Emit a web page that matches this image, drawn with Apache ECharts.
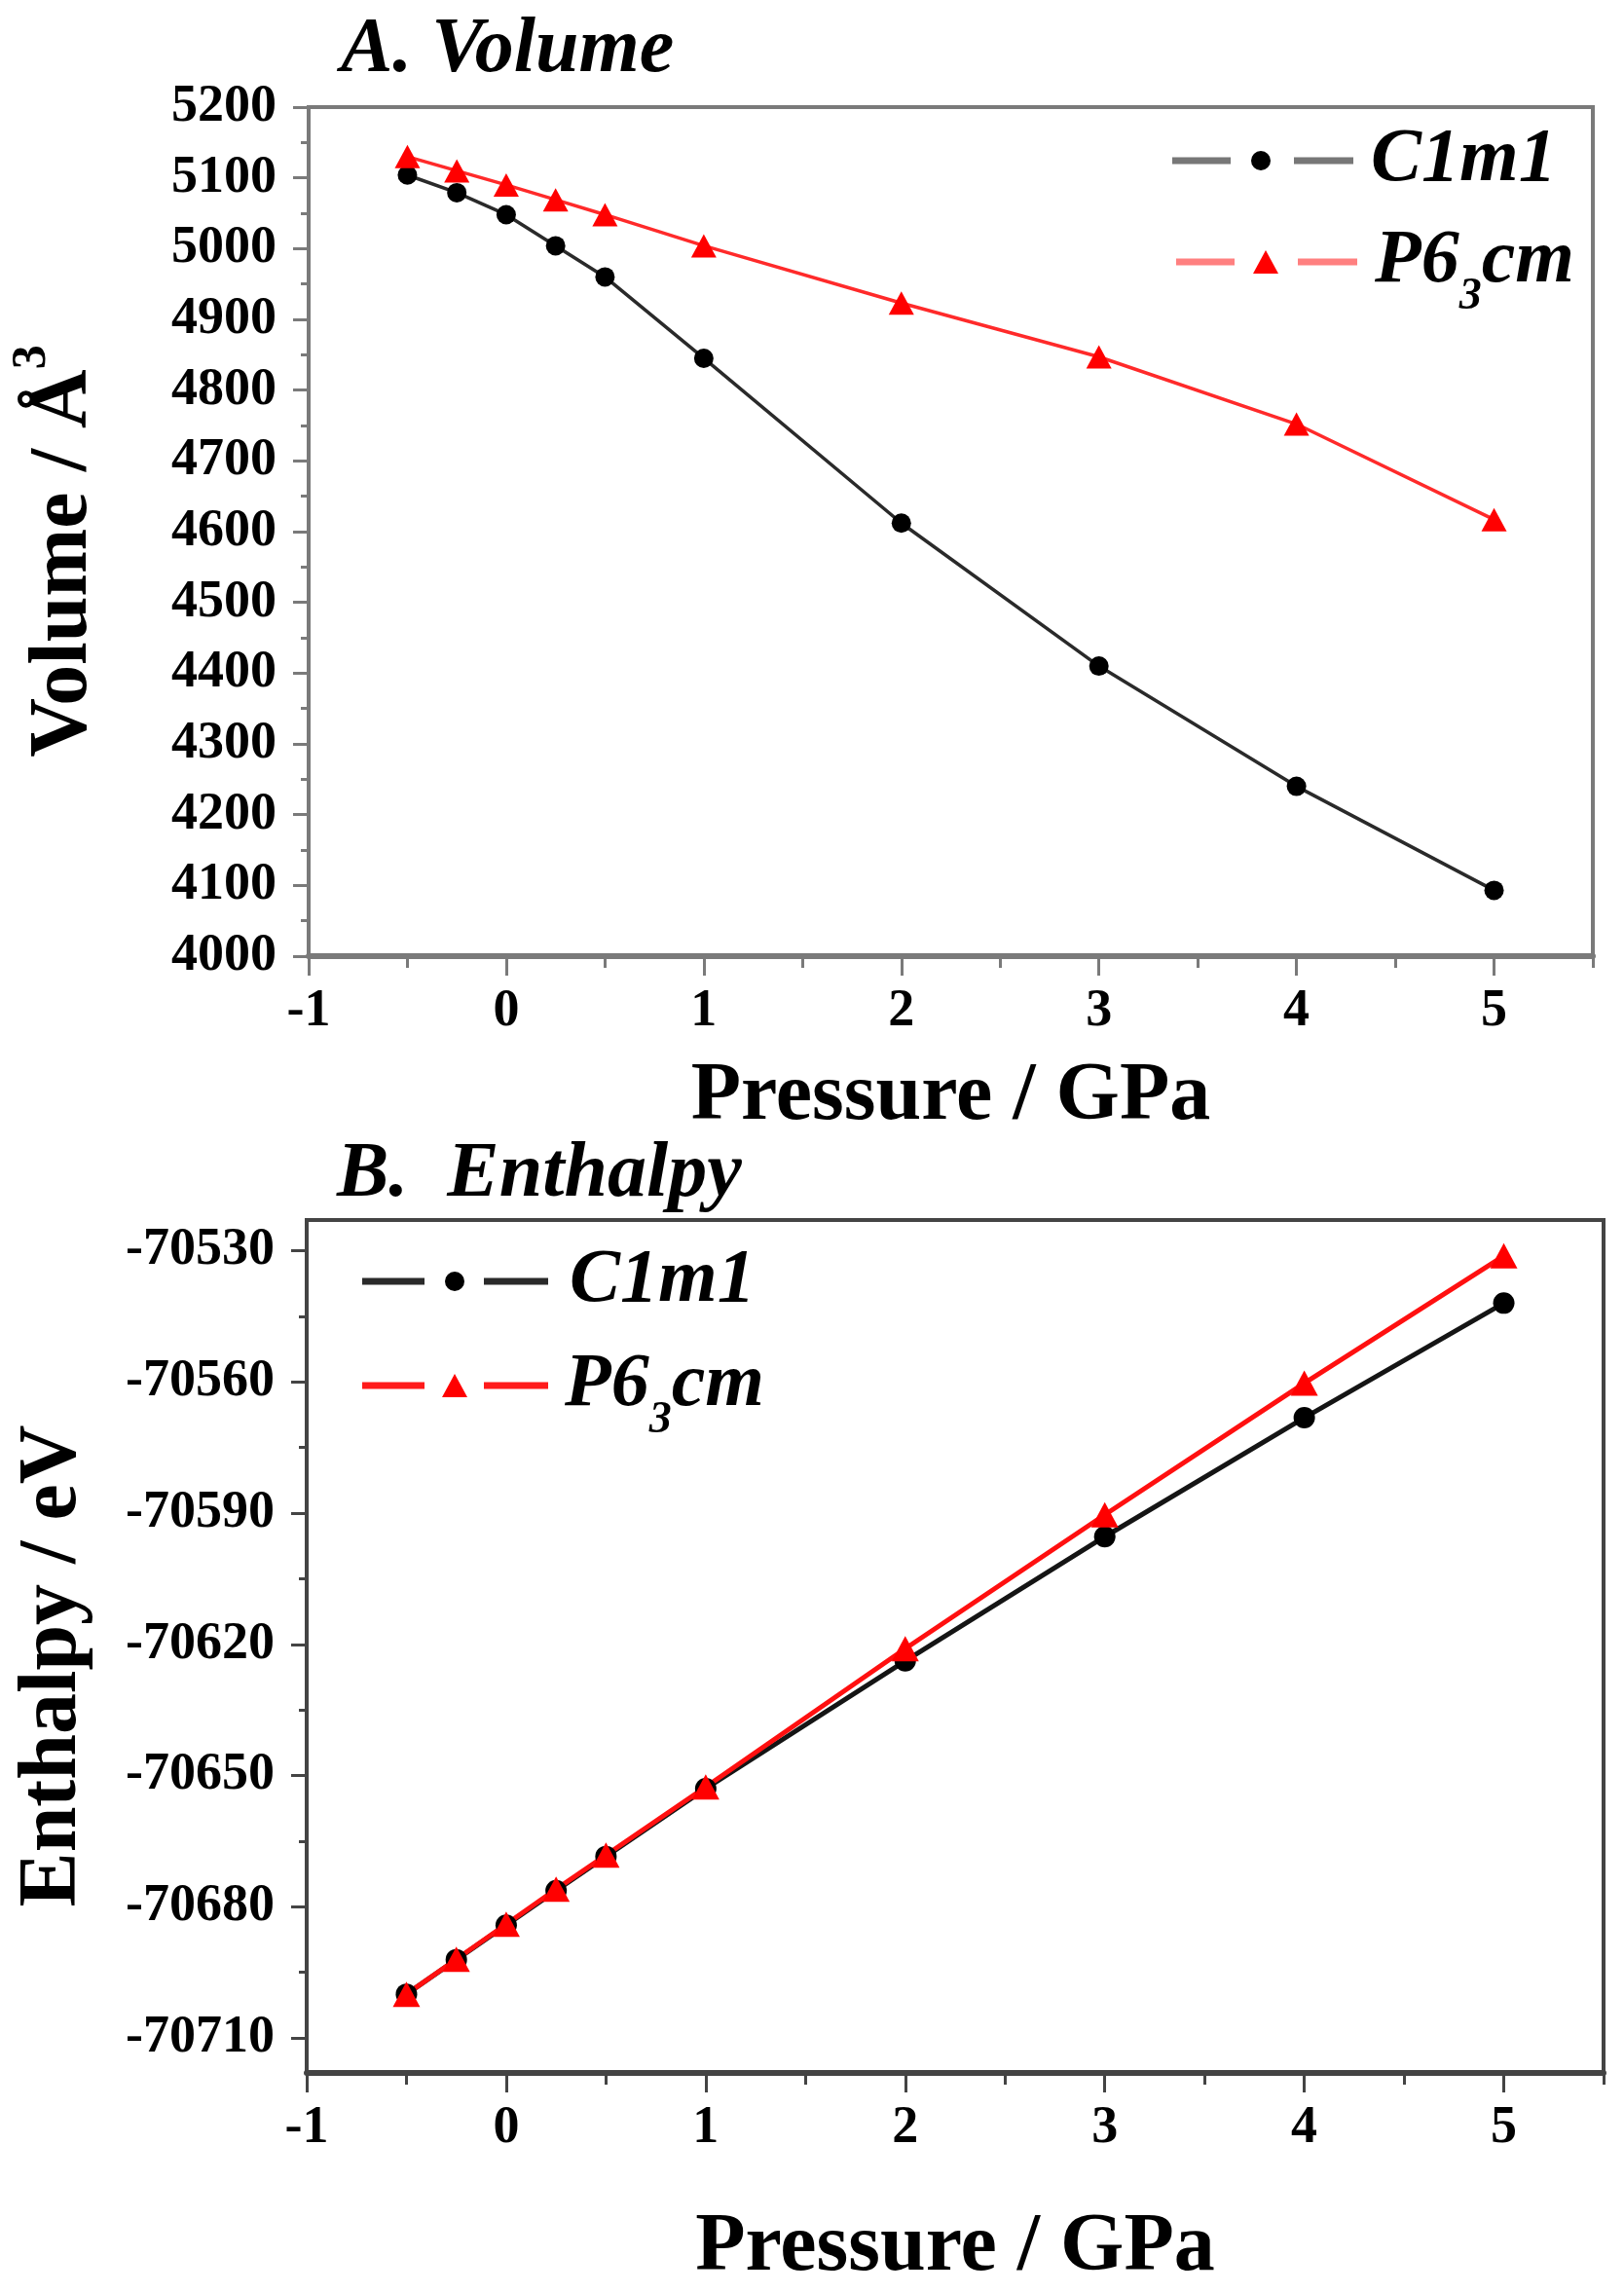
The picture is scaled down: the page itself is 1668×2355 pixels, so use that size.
<!DOCTYPE html>
<html>
<head>
<meta charset="utf-8">
<script src="https://cdn.jsdelivr.net/npm/echarts@6/dist/echarts.min.js"></script>
<style>
  html, body { margin: 0; padding: 0; background: #fff; }
  #chart { width: 1668px; height: 2355px; }
</style>
</head>
<body>
<div id="chart"></div>
<script>
// 数据
const pressure = [-0.5, -0.25, 0, 0.25, 0.5, 1, 2, 3, 4, 5];
const volumeC1m1 = [5104, 5079, 5048, 5004, 4960, 4845, 4612, 4410, 4240, 4093];
const volumeP63cm = [5130, 5110, 5090, 5069, 5048, 5004, 4923, 4847, 4752, 4617];
const enthalpyC1m1 = [-70700, -70692.1, -70684.2, -70676.3, -70668.5, -70653.0, -70623.8, -70595.4, -70568.2, -70542.0];
const enthalpyP63cm = [-70700, -70692, -70684, -70676, -70668.2, -70652.6, -70621, -70590.4, -70560.3, -70531.2];

// 刻度
const xMajorTicks = [-1, 0, 1, 2, 3, 4, 5];
const xMinorTicks = [-0.5, 0.5, 1.5, 2.5, 3.5, 4.5, 5.5];
const volumeTicks = [4000, 4100, 4200, 4300, 4400, 4500, 4600, 4700, 4800, 4900, 5000, 5100, 5200];
const volumeMinorTicks = [4050, 4150, 4250, 4350, 4450, 4550, 4650, 4750, 4850, 4950, 5050, 5150];
const enthalpyTicks = [-70710, -70680, -70650, -70620, -70590, -70560, -70530];
const enthalpyMinorTicks = [-70695, -70665, -70635, -70605, -70575, -70545];

const serif = '"Liberation Serif", "Times New Roman", serif';
const frameTop = '#7a7a7a';
const frameBottom = '#444';

function pairs(xs, ys) {
  return xs.map((x, i) => [x, ys[i]]);
}

const tickLabel = {
  fontSize: 54,
  fontWeight: 'bold',
  fontFamily: serif,
  color: '#000',
  formatter: v => String(v)
};

const axisName = {
  fontSize: 84,
  fontWeight: 'bold',
  fontFamily: serif,
  color: '#000',
  lineHeight: 90
};

// 主坐标轴（带标签）
function mainX(grid, color, gap) {
  return {
    type: 'value', gridIndex: grid, min: -1, max: 5.5, position: 'bottom',
    axisLine: { show: true, onZero: false, lineStyle: { color: color, width: 6 } },
    axisTick: { show: true, customValues: xMajorTicks, length: 20, lineStyle: { color: color, width: 3 } },
    axisLabel: Object.assign({ customValues: xMajorTicks, margin: 30 }, tickLabel),
    splitLine: { show: false },
    name: 'Pressure / GPa', nameLocation: 'middle', nameGap: gap,
    nameTextStyle: axisName
  };
}

// 次刻度轴
function minorX(grid, color) {
  return {
    type: 'value', gridIndex: grid, min: -1, max: 5.5, position: 'bottom', offset: 0,
    axisLine: { show: false, onZero: false },
    axisTick: { show: true, customValues: xMinorTicks, length: 12, lineStyle: { color: color, width: 3 } },
    axisLabel: { show: false },
    splitLine: { show: false }
  };
}

function mainY(grid, color, min, max, ticks, name, gap, shift) {
  return {
    type: 'value', gridIndex: grid, min: min, max: max, position: 'left',
    axisLine: { show: true, onZero: false, lineStyle: { color: color, width: 4 } },
    axisTick: { show: true, customValues: ticks, length: 16, lineStyle: { color: color, width: 3 } },
    axisLabel: Object.assign({ customValues: ticks, margin: 33 }, tickLabel),
    splitLine: { show: false },
    name: name, nameLocation: 'middle', nameGap: gap,
    nameTextStyle: Object.assign({
      padding: [0, shift, 0, 0],
      rich: {
        sup: { fontSize: 50, fontWeight: 'bold', fontFamily: serif, color: '#000', lineHeight: 90, padding: [0, 0, 66, 0] }
      }
    }, axisName)
  };
}

function minorY(grid, color, min, max, ticks) {
  return {
    type: 'value', gridIndex: grid, min: min, max: max, position: 'left', offset: 0,
    axisLine: { show: false, onZero: false },
    axisTick: { show: true, customValues: ticks, length: 8, lineStyle: { color: color, width: 3 } },
    axisLabel: { show: false },
    splitLine: { show: false }
  };
}

function legendText(color, padLeft) {
  return {
    fontSize: 78,
    fontStyle: 'italic',
    fontWeight: 'bold',
    fontFamily: serif,
    color: color,
    lineHeight: 80,
    padding: [0, 0, 0, padLeft],
    rich: {
      sub: { fontSize: 46, fontStyle: 'italic', fontWeight: 'bold', fontFamily: serif, color: color, lineHeight: 80, padding: [72, 0, 0, 0] }
    }
  };
}

const legendFormatter = n => n === 'P63cm' ? 'P6{sub|3}cm' : n;

// 图例: 两段短线（中间留空）
function legendDash(name, left, top, seg, gapEnd, total, height, color) {
  return {
    data: [{
      name: name,
      icon: 'path://M0,0H' + seg + 'V' + height + 'H0Z M' + gapEnd + ',0H' + total + 'V' + height + 'H' + gapEnd + 'Z',
      itemStyle: { color: color }
    }],
    left: left, top: top, padding: 0,
    itemWidth: total, itemHeight: height,
    selectedMode: false,
    formatter: legendFormatter,
    textStyle: legendText('rgba(0,0,0,0)', 0)
  };
}

// 图例: 符号 + 文字
function legendMark(name, icon, left, top, w, h, padLeft) {
  return {
    data: [{ name: name, icon: icon }],
    left: left, top: top, padding: 0,
    itemWidth: w, itemHeight: h,
    selectedMode: false,
    formatter: legendFormatter,
    textStyle: legendText('#000', padLeft)
  };
}

const chart = echarts.init(document.getElementById('chart'), null, { renderer: 'canvas' });

const option = {
  animation: false,
  backgroundColor: '#fff',
  title: [
    {
      text: 'A. Volume', left: 350, top: 12, padding: 0,
      textStyle: { fontSize: 80, fontStyle: 'italic', fontWeight: 'bold', fontFamily: serif, color: '#000' }
    },
    {
      text: 'B.  Enthalpy', left: 346, top: 1167, padding: 0,
      textStyle: { fontSize: 80, fontStyle: 'italic', fontWeight: 'bold', fontFamily: serif, color: '#000' }
    }
  ],
  grid: [
    { left: 315, top: 110, width: 1321, height: 872, show: true, borderColor: frameTop, borderWidth: 4, containLabel: false },
    { left: 315, top: 1253, width: 1332, height: 880, show: true, borderColor: frameBottom, borderWidth: 4, containLabel: false }
  ],
  legend: [
    legendDash('C1m1', 1204, 125, 60, 125, 186, 7, '#777'),
    legendMark('C1m1', 'circle', 1285, 125, 20, 20, 98),
    legendDash('P63cm', 1208, 210, 60, 125, 186, 7, '#ff8080'),
    legendMark('P63cm', 'triangle', 1287, 210, 26, 24, 94),
    legendDash('C1m1', 372, 1276, 64, 125, 191, 7, '#2a2a2a'),
    legendMark('C1m1', 'circle', 457, 1276, 20, 20, 103),
    legendDash('P63cm', 372, 1364, 64, 125, 191, 7, '#ff1a1a'),
    legendMark('P63cm', 'triangle', 454, 1364, 26, 24, 95)
  ],
  xAxis: [
    mainX(0, frameTop, 100),
    minorX(0, frameTop),
    mainX(1, frameBottom, 135),
    minorX(1, frameBottom)
  ],
  yAxis: [
    mainY(0, frameTop, 4000, 5200, volumeTicks, 'Volume / Å{sup|3}', 206, 40),
    minorY(0, frameTop, 4000, 5200, volumeMinorTicks),
    mainY(1, frameBottom, -70718, -70523, enthalpyTicks, 'Enthalpy / eV', 215, 40),
    minorY(1, frameBottom, -70718, -70523, enthalpyMinorTicks)
  ],
  series: [
    {
      name: 'C1m1', type: 'line', xAxisIndex: 0, yAxisIndex: 0,
      data: pairs(pressure, volumeC1m1),
      symbol: 'circle', symbolSize: 20,
      lineStyle: { color: '#2a2a2a', width: 3.5 },
      itemStyle: { color: '#000' }
    },
    {
      name: 'P63cm', type: 'line', xAxisIndex: 0, yAxisIndex: 0,
      data: pairs(pressure, volumeP63cm),
      symbol: 'triangle', symbolSize: [26, 24],
      lineStyle: { color: '#ff2a2a', width: 3.5 },
      itemStyle: { color: '#ff0000' }
    },
    {
      name: 'C1m1', type: 'line', xAxisIndex: 2, yAxisIndex: 2,
      data: pairs(pressure, enthalpyC1m1),
      symbol: 'circle', symbolSize: 22,
      lineStyle: { color: '#151515', width: 5 },
      itemStyle: { color: '#000' }
    },
    {
      name: 'P63cm', type: 'line', xAxisIndex: 2, yAxisIndex: 2,
      data: pairs(pressure, enthalpyP63cm),
      symbol: 'triangle', symbolSize: [28, 26],
      lineStyle: { color: '#ff1010', width: 5 },
      itemStyle: { color: '#ff0000' }
    }
  ]
};

chart.setOption(option);
</script>
</body>
</html>
